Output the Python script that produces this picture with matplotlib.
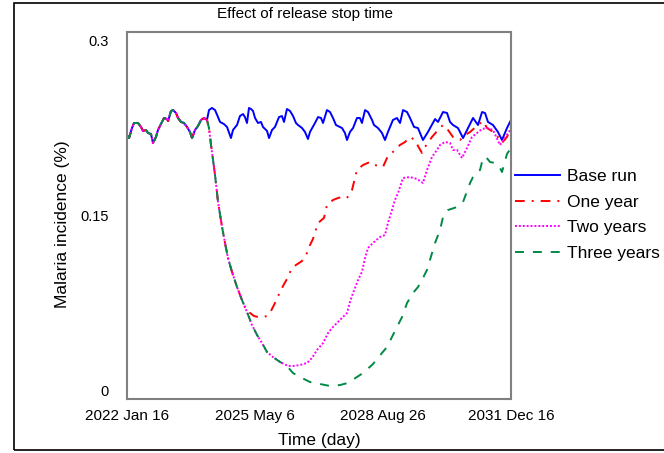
import matplotlib
matplotlib.use("Agg")
import matplotlib.pyplot as plt
from matplotlib.patches import Rectangle

plt.rcParams['font.family'] = ['Liberation Sans', 'DejaVu Sans']

# Simulated malaria incidence, time in days from 2022 Jan 16
base_day = [0, 19, 47, 66, 104, 132, 151, 179, 198, 226,
            245, 273, 292, 330, 349, 377, 387, 415, 434, 462,
            481, 509, 537, 566, 594, 613, 641, 669, 698, 726,
            754, 773, 801, 830, 858, 877, 914, 943, 980, 999,
            1037, 1065, 1094, 1112, 1131, 1150, 1169, 1188, 1207, 1235,
            1263, 1282, 1320, 1339, 1367, 1395, 1433, 1461, 1480, 1508,
            1537, 1565, 1593, 1612, 1650, 1678, 1706, 1725, 1772, 1801,
            1829, 1848, 1885, 1914, 1942, 1970, 1989, 2027, 2055, 2074,
            2102, 2131, 2168, 2196, 2215, 2244, 2272, 2310, 2328, 2366,
            2404, 2432, 2460, 2507, 2545, 2574, 2602, 2640, 2668, 2706,
            2743, 2790, 2837, 2904, 2932, 2979, 3017, 3045, 3073, 3120,
            3168, 3215, 3262, 3309, 3347, 3375, 3403, 3450, 3497, 3535,
            3582, 3620]
base_run = [0.2194, 0.2168, 0.2254, 0.2297, 0.2297, 0.2263, 0.2229, 0.2237, 0.2211, 0.2203,
            0.2126, 0.2177, 0.2237, 0.2306, 0.2340, 0.2331, 0.2314, 0.2400, 0.2408, 0.2383,
            0.2340, 0.2306, 0.2297, 0.2263, 0.2220, 0.2168, 0.2237, 0.2271, 0.2323, 0.2340,
            0.2323, 0.2408, 0.2426, 0.2408, 0.2348, 0.2306, 0.2288, 0.2263, 0.2168, 0.2237,
            0.2280, 0.2357, 0.2374, 0.2348, 0.2297, 0.2426, 0.2417, 0.2400, 0.2340, 0.2297,
            0.2306, 0.2263, 0.2229, 0.2168, 0.2237, 0.2263, 0.2348, 0.2357, 0.2306, 0.2417,
            0.2400, 0.2357, 0.2297, 0.2280, 0.2254, 0.2220, 0.2160, 0.2220, 0.2297, 0.2348,
            0.2340, 0.2297, 0.2408, 0.2391, 0.2340, 0.2280, 0.2271, 0.2254, 0.2211, 0.2151,
            0.2220, 0.2254, 0.2340, 0.2340, 0.2297, 0.2408, 0.2391, 0.2323, 0.2280, 0.2254,
            0.2211, 0.2151, 0.2220, 0.2323, 0.2340, 0.2297, 0.2408, 0.2391, 0.2340, 0.2263,
            0.2254, 0.2151, 0.2220, 0.2331, 0.2306, 0.2391, 0.2383, 0.2306, 0.2280, 0.2254,
            0.2168, 0.2254, 0.2340, 0.2280, 0.2391, 0.2383, 0.2306, 0.2280, 0.2220, 0.2151,
            0.2254, 0.2323]

# releases start on day 754; every scenario follows the base run until then
release_start = 754

# first year of releases, common to all three scenarios
release_day = [773, 792, 811, 830, 858, 896, 924, 952, 990, 1037, 1084, 1131]
release_drop = [0.2254, 0.2109, 0.1980, 0.1851, 0.1620, 0.1406, 0.1269, 0.1140,
                0.1020, 0.0891, 0.0780, 0.0677]

# releases stopped after one year
one_year_day = [1160, 1197, 1235, 1282, 1320, 1348, 1395, 1442, 1471, 1508,
                1555, 1593, 1650, 1697, 1725, 1753, 1801, 1857, 1885, 1942,
                1989, 2027, 2074, 2121, 2168, 2225, 2291, 2338, 2413, 2451,
                2507, 2574, 2621, 2668, 2715, 2743, 2781, 2809, 2875, 2932,
                2979, 3026, 3073, 3139, 3186, 3234, 3309, 3356, 3394, 3469,
                3535, 3582, 3620]
one_year = [0.0669, 0.0643, 0.0634, 0.0634, 0.0643, 0.0669, 0.0754, 0.0849, 0.0900, 0.0960,
            0.1054, 0.1080, 0.1114, 0.1183, 0.1251, 0.1303, 0.1440, 0.1483, 0.1594, 0.1637,
            0.1654, 0.1663, 0.1654, 0.1723, 0.1894, 0.1937, 0.1963, 0.1937, 0.1920, 0.1997,
            0.2049, 0.2109, 0.2134, 0.2177, 0.2151, 0.2100, 0.2040, 0.2091, 0.2177, 0.2237,
            0.2280, 0.2237, 0.2177, 0.2151, 0.2194, 0.2220, 0.2280, 0.2314, 0.2254, 0.2211,
            0.2126, 0.2177, 0.2263]

# second year of releases, common to the two- and three-year scenarios
second_day = [1178, 1226, 1273, 1320, 1376, 1442, 1499]
second_drop = [0.0566, 0.0480, 0.0411, 0.0334, 0.0291, 0.0249, 0.0223]

two_year_day = [1537, 1565, 1631, 1697, 1744, 1791, 1848, 1895, 1942, 2008,
                2074, 2102, 2131, 2178, 2215, 2244, 2272, 2319, 2385, 2432,
                2460, 2498, 2526, 2555, 2602, 2668, 2734, 2790, 2828, 2875,
                2922, 2951, 2998, 3045, 3073, 3111, 3158, 3205, 3252, 3299,
                3347, 3394, 3450, 3516, 3563, 3611, 3620]
two_year = [0.0214, 0.0214, 0.0223, 0.0240, 0.0283, 0.0351, 0.0411, 0.0497, 0.0549, 0.0609,
            0.0669, 0.0763, 0.0840, 0.0951, 0.1020, 0.1140, 0.1226, 0.1269, 0.1320, 0.1337,
            0.1440, 0.1551, 0.1637, 0.1697, 0.1826, 0.1834, 0.1817, 0.1783, 0.1894, 0.2006,
            0.2066, 0.2109, 0.2134, 0.2126, 0.2066, 0.2066, 0.1997, 0.2083, 0.2177, 0.2211,
            0.2246, 0.2254, 0.2237, 0.2109, 0.2168, 0.2237, 0.2254]

three_year_day = [1565, 1631, 1725, 1819, 1914, 2008, 2083, 2168, 2225, 2319,
                  2404, 2451, 2498, 2545, 2593, 2640, 2696, 2743, 2790, 2828,
                  2856, 2904, 2951, 2979, 3026, 3111, 3168, 3234, 3262, 3299,
                  3328, 3356, 3384, 3422, 3469, 3507, 3535, 3582, 3620]
three_year = [0.0154, 0.0120, 0.0077, 0.0060, 0.0043, 0.0051, 0.0069, 0.0120, 0.0154, 0.0231,
              0.0326, 0.0377, 0.0463, 0.0549, 0.0634, 0.0754, 0.0840, 0.0891, 0.0969, 0.1037,
              0.1123, 0.1269, 0.1380, 0.1491, 0.1551, 0.1577, 0.1620, 0.1783, 0.1834, 0.1877,
              0.1894, 0.1997, 0.2006, 0.1963, 0.1954, 0.1929, 0.1877, 0.2031, 0.2083]

tick_day = [0, 1207, 2413, 3620]
tick_label = ['2022 Jan 16', '2025 May 6', '2028 Aug 26', '2031 Dec 16']
y_ticks = [0, 0.15, 0.3]
y_tick_label = ['0', '0.15', '0.3']

# assemble each scenario from the shared pieces
pre_day = [d for d in base_day if d <= release_start]
pre_val = base_run[:len(pre_day)]
common_day = pre_day + release_day
common_val = pre_val + release_drop

one_x = common_day + one_year_day
one_y = common_val + one_year
two_x = common_day + second_day + two_year_day
two_y = common_val + second_drop + two_year
three_x = common_day + second_day + three_year_day
three_y = common_val + second_drop + three_year

W, H = 664, 453
fig = plt.figure(figsize=(W / 100, H / 100), dpi=100)
ax = fig.add_axes([127 / W, 1 - 399 / H, 384 / W, 367 / H])

lw = 1.4
ax.plot(base_day, base_run, color='#0000ff', lw=lw, label='Base run')
ax.plot(one_x, one_y, color='#ff0000', lw=lw, linestyle=(0, (5, 3.6, 1, 3.6)),
        label='One year')
ax.plot(two_x, two_y, color='#ff00ff', lw=lw, linestyle=(0, (1, 1)),
        label='Two years')
ax.plot(three_x, three_y, color='#008a45', lw=lw, linestyle=(0, (4.6, 4.6)),
        label='Three years')

ax.set_xlim(0, 3620)
ax.set_ylim(-0.00686, 0.3077)
ax.set_xticks(tick_day)
ax.set_xticklabels(tick_label)
ax.set_yticks(y_ticks)
ax.set_yticklabels(y_tick_label)
ax.tick_params(length=0, labelsize=11)
ax.tick_params(axis='x', pad=7)
ax.tick_params(axis='y', pad=13, labelsize=10.5)

for s in ax.spines.values():
    s.set_color('#808080')
    s.set_linewidth(1.5)

ax.set_xlabel('Time (day)', fontsize=12.5, va='center')
ax.xaxis.set_label_coords(0.5, -0.112)
ax.set_ylabel('Malaria incidence (%)', fontsize=12.5, va='center')
ax.yaxis.set_label_coords(-0.169, 0.475)

fig.text(305 / W, 1 - 14 / H, 'Effect of release stop time',
         ha='center', va='center', fontsize=11)

handles, labels = ax.get_legend_handles_labels()
fig.legend(handles, labels, loc='center left',
           bbox_to_anchor=(515 / W, 1 - 215 / H), frameon=False,
           fontsize=12.5, handlelength=2.6, handletextpad=0.4,
           labelspacing=0.6, borderpad=0, borderaxespad=0)

# outer frame of the figure
fig.add_artist(Rectangle((14 / W, 3 / H), 1.0, 447 / H, transform=fig.transFigure,
                         fill=False, edgecolor='black', linewidth=1.2, clip_on=False))

fig.savefig('out.png', dpi=100)
